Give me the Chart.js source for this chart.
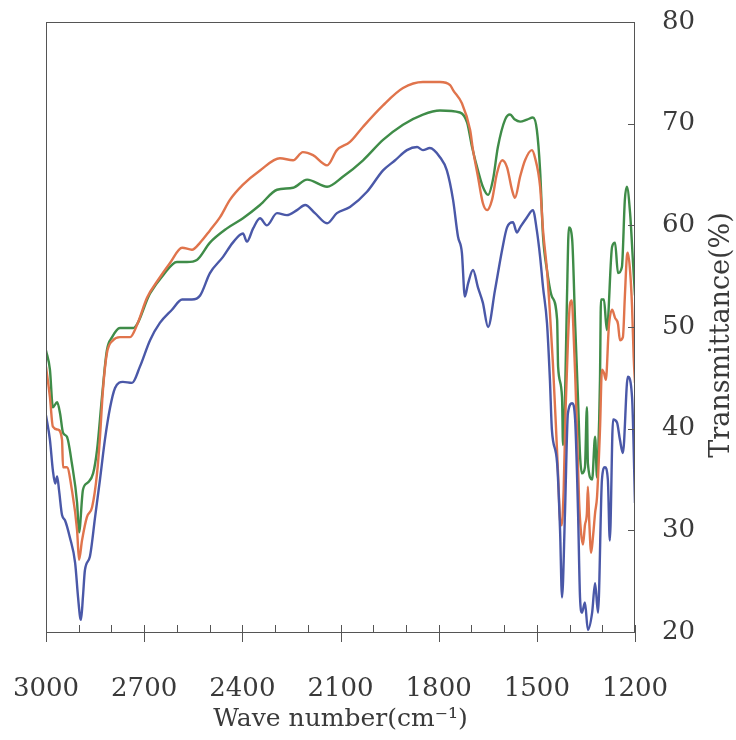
<!DOCTYPE html>
<html>
<head>
<meta charset="utf-8">
<script src="https://cdn.jsdelivr.net/npm/chart.js@4"></script>
<style>
  html, body { margin: 0; padding: 0; background: #fff; }
  #wrap { width: 736px; height: 740px; }
</style>
</head>
<body>
<div id="wrap"><canvas id="ir"></canvas></div>
<script>
// IR spectra, wave number (cm-1) vs transmittance (%)
const wnBlue = [3000,2988,2979,2972,2966,2960,2951,2942,2927,2911,2902,2896,2893,2887,2881,2866,2850,2835,2820,2804,2789,2765,2737,2713,2682,2652,2615,2584,2554,2529,2499,2459,2429,2398,2386,2367,2346,2325,2294,2264,2233,2208,2178,2141,2111,2071,2019,1970,1933,1897,1866,1848,1827,1796,1775,1756,1741,1729,1720,1710,1695,1680,1665,1649,1628,1606,1591,1573,1561,1551,1530,1512,1500,1490,1481,1469,1460,1454,1438,1429,1423,1414,1405,1392,1383,1374,1368,1362,1353,1344,1331,1322,1313,1301,1292,1283,1277,1267,1255,1246,1237,1222,1209,1200];
const tBlue = [41.3,38.9,35.9,34.6,35.3,33.9,31.5,31.0,29.3,26.8,23.4,21.5,21.2,23.5,26.1,27.4,31.3,35.0,38.9,42.1,44.0,44.6,44.5,46.1,48.7,50.4,51.7,52.7,52.7,53.1,55.3,56.9,58.3,59.2,58.4,59.7,60.7,60.0,61.2,61.0,61.5,62.0,61.2,60.2,61.2,61.8,63.3,65.4,66.4,67.4,67.7,67.4,67.6,66.7,65.4,62.5,58.9,57.3,53.0,54.3,55.6,53.9,52.4,50.0,53.6,57.6,59.8,60.3,59.3,59.8,60.8,61.5,59.5,56.9,53.9,50.4,44.8,39.9,36.6,30.0,23.4,31.7,41.5,42.5,40.9,31.7,23.4,21.9,22.9,20.2,21.9,24.8,21.9,35.0,36.2,35.0,29.0,40.9,40.6,38.9,37.6,45.1,43.1,32.7];

const wnOrange = [3000,2988,2979,2963,2951,2948,2936,2921,2905,2899,2890,2875,2859,2844,2835,2826,2814,2795,2774,2743,2722,2691,2658,2621,2584,2554,2529,2499,2468,2438,2398,2346,2285,2245,2215,2184,2141,2111,2071,2031,1970,1909,1848,1796,1765,1756,1729,1704,1695,1680,1665,1652,1637,1622,1606,1591,1576,1567,1551,1536,1515,1506,1490,1481,1469,1460,1451,1442,1435,1429,1424,1418,1412,1405,1399,1393,1389,1383,1377,1371,1365,1359,1353,1347,1344,1340,1334,1328,1322,1316,1307,1301,1295,1289,1280,1270,1261,1252,1246,1237,1231,1225,1222,1215,1209,1204,1200];
const tOrange = [46.1,43.1,40.2,39.9,38.9,36.2,36.2,34.0,30.0,27.1,29.0,31.3,32.3,35.6,39.2,43.8,47.4,48.7,49.0,49.0,50.2,52.9,54.6,56.3,57.8,57.6,58.3,59.5,60.8,62.5,64.0,65.4,66.6,66.4,67.2,66.9,65.9,67.4,68.2,69.7,71.8,73.5,74.1,74.1,73.8,73.3,72.0,69.4,67.4,64.8,62.2,61.5,62.5,65.1,66.4,65.7,63.5,62.7,64.8,66.4,67.4,66.7,63.8,59.5,55.6,51.4,46.5,40.5,35.5,31.0,30.5,34.0,42.0,48.5,52.2,52.6,50.4,45.5,39.5,33.0,29.8,28.6,30.5,31.7,34.3,31.0,27.8,29.5,31.7,33.3,39.9,45.8,45.5,44.8,50.0,51.7,50.9,50.3,48.7,49.0,53.0,56.9,57.3,55.5,52.0,47.0,44.5];

const wnGreen = [3000,2988,2979,2966,2957,2948,2936,2921,2905,2899,2887,2872,2856,2844,2829,2814,2798,2774,2734,2682,2642,2600,2569,2539,2499,2447,2398,2346,2294,2245,2202,2141,2092,2031,1970,1909,1848,1796,1735,1713,1698,1680,1665,1649,1634,1619,1597,1582,1567,1551,1530,1512,1500,1490,1481,1469,1454,1438,1435,1423,1420,1414,1408,1402,1392,1383,1374,1368,1362,1353,1347,1344,1331,1322,1316,1313,1307,1304,1295,1286,1270,1261,1252,1240,1231,1225,1215,1206,1200];
const tGreen = [47.7,45.8,42.1,42.6,41.5,39.6,39.2,36.6,32.7,29.8,34.0,34.7,35.6,37.9,43.1,47.7,49.0,49.9,49.9,53.3,55.1,56.4,56.4,56.6,58.3,59.7,60.7,62.0,63.5,63.7,64.5,63.8,64.8,66.4,68.4,69.9,70.9,71.3,71.1,70.1,67.7,65.4,63.8,63.0,64.5,67.7,70.4,70.9,70.4,70.2,70.4,70.6,69.4,65.4,58.9,55.6,53.0,50.7,46.1,43.1,38.4,42.8,52.7,59.8,58.6,50.4,42.8,37.4,35.6,36.2,42.1,36.6,35.0,39.2,35.2,37.0,44.8,52.7,52.7,49.7,57.9,58.3,55.3,55.9,62.5,63.8,61.2,56.3,53.1];

const xMajor = [3000, 2700, 2400, 2100, 1800, 1500, 1200];
const yTickValues = [20, 30, 40, 50, 60, 70, 80];

const serif = '"DejaVu Serif", serif';
const inkColor = '#3a3a3a';

function points(wn, t) {
  return wn.map((w, i) => ({ x: w, y: t[i] }));
}

function series(label, wn, t, color) {
  return {
    label: label,
    data: points(wn, t),
    borderColor: color,
    borderWidth: 2.4,
    pointRadius: 0,
    cubicInterpolationMode: 'monotone',
    fill: false
  };
}

// frame box, inward ticks and the rotated right-hand title
const frame = {
  id: 'frame',
  afterDraw(chart) {
    const { ctx, chartArea: a, scales: { x, y } } = chart;
    ctx.save();
    ctx.strokeStyle = '#555';
    ctx.lineWidth = 1;
    ctx.strokeRect(a.left + 0.5, a.top + 0.5, a.right - a.left - 1, a.bottom - a.top);

    ctx.beginPath();
    for (let w = 1200; w <= 3000; w += 100) {
      const px = Math.round(x.getPixelForValue(w)) + 0.5;
      const major = xMajor.includes(w);
      ctx.moveTo(px, a.bottom - 7);
      ctx.lineTo(px, a.bottom + (major ? 10 : 0));
    }
    yTickValues.forEach(v => {
      const py = Math.round(y.getPixelForValue(v)) + 0.5;
      ctx.moveTo(a.right - 7, py);
      ctx.lineTo(a.right, py);
    });
    ctx.stroke();

    ctx.translate(722, 335);
    ctx.rotate(-Math.PI / 2);
    ctx.fillStyle = inkColor;
    ctx.font = '27px ' + serif;
    ctx.textAlign = 'center';
    ctx.textBaseline = 'middle';
    ctx.fillText('Transmittance(%)', 0, 0);
    ctx.restore();
  }
};

new Chart(document.getElementById('ir'), {
  type: 'line',
  data: {
    datasets: [
      series('A', wnBlue, tBlue, '#4a58a8'),
      series('B', wnOrange, tOrange, '#e0744c'),
      series('C', wnGreen, tGreen, '#3f8c48')
    ]
  },
  options: {
    responsive: true,
    maintainAspectRatio: false,
    animation: false,
    layout: { padding: { left: 46, top: 22, right: 0, bottom: 0 } },
    plugins: {
      legend: { display: false },
      tooltip: { enabled: false }
    },
    scales: {
      x: {
        type: 'linear',
        reverse: true,
        min: 1200,
        max: 3000,
        afterBuildTicks: s => { s.ticks = xMajor.map(v => ({ value: v })); },
        afterFit: s => { s.height = 108; s.paddingLeft = 0; s.paddingRight = 0; },
        grid: { display: false, drawTicks: false },
        border: { display: false },
        ticks: {
          color: inkColor,
          font: { family: serif, size: 26 },
          padding: 42,
          maxRotation: 0,
          autoSkip: false,
          callback: v => String(v)
        },
        title: {
          display: true,
          text: 'Wave number(cm⁻¹)',
          color: inkColor,
          font: { family: serif, size: 25 },
          padding: { top: 0, bottom: 6 }
        }
      },
      y: {
        position: 'right',
        min: 20,
        max: 80,
        afterBuildTicks: s => { s.ticks = yTickValues.map(v => ({ value: v })); },
        afterFit: s => { s.width = 101; s.paddingTop = 0; s.paddingBottom = 0; },
        grid: { display: false, drawTicks: false },
        border: { display: false },
        ticks: {
          color: inkColor,
          font: { family: serif, size: 26 },
          padding: 27
        }
      }
    }
  },
  plugins: [frame]
});
</script>
</body>
</html>
